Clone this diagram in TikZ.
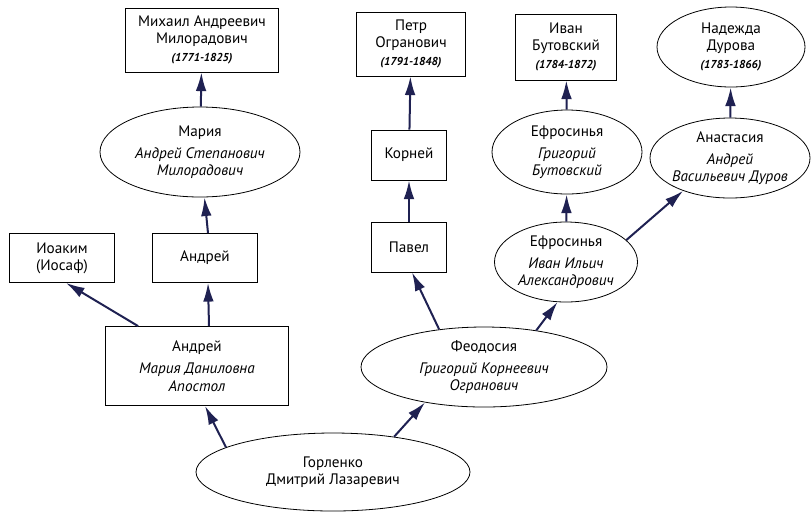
\documentclass[tikz,border=0pt]{standalone}
\usepackage{fontspec}
\setmainfont{PT Sans}
\usepackage{tikz}
\usetikzlibrary{shapes.geometric, arrows.meta}
\usepackage{xcolor}
\definecolor{linkc}{RGB}{31,33,82}
\newcommand{\yrs}[1]{{\fontsize{8.6}{10}\selectfont\bfseries\itshape(#1)}}

\begin{document}
\begin{tikzpicture}[x=0.75pt, y=-0.75pt, font=\fontsize{11.4}{12.8}\selectfont]
\def\pxu{0.75pt}
\tikzset{
 pbox/.style={draw, line width=0.6pt, rectangle, inner sep=0pt, align=center},
 pell/.style={draw, line width=0.6pt, ellipse, inner xsep=-14pt, inner ysep=-4pt, align=center},
 link/.style={draw=linkc, line width=1.5pt, -{Latex[length=14pt, width=8pt]}},
}
\useasboundingbox (0,0) rectangle (812,512);
%top row
\node[pbox, minimum width=153*\pxu, minimum height=64*\pxu] (mikh) at (202,40) {Михаил Андреевич\\Милорадович\\[1pt]\yrs{1771-1825}};
\node[pbox, minimum width=109*\pxu, minimum height=64*\pxu] (petr) at (411,44) {Петр\\Огранович\\[1pt]\yrs{1791-1848}};
\node[pbox, minimum width=101*\pxu, minimum height=66*\pxu] (ivan) at (566,47) {Иван\\Бутовский\\[1pt]\yrs{1784-1872}};
\node[pell, minimum width=148*\pxu, minimum height=80*\pxu] (nadezh) at (731,47) {Надежда\\Дурова\\[1pt]\yrs{1783-1866}};
%second row
\node[pell, minimum width=200*\pxu, minimum height=90*\pxu] (maria) at (200,152) {Мария\\[4pt]\textit{Андрей Степанович}\\\textit{Милорадович}};
\node[pbox, minimum width=75*\pxu, minimum height=50*\pxu] (korney) at (409,155) {Корней};
\node[pell, minimum width=150*\pxu, minimum height=84*\pxu] (efrt) at (567,152) {Ефросинья\\[4pt]\textit{Григорий}\\\textit{Бутовский}};
\node[pell, minimum width=160*\pxu, minimum height=80*\pxu] (anast) at (730,158) {Анастасия\\[4pt]\textit{Андрей}\\\textit{Васильевич Дуров}};
%third row
\node[pbox, minimum width=105*\pxu, minimum height=49*\pxu] (ioakim) at (62,258) {Иоаким\\(Иосаф)};
\node[pbox, minimum width=105*\pxu, minimum height=49*\pxu] (andreym) at (205,258) {Андрей};
\node[pbox, minimum width=75*\pxu, minimum height=50*\pxu] (pavel) at (409,247) {Павел};
\node[pell, minimum width=143*\pxu, minimum height=80*\pxu] (efrl) at (566,262) {Ефросинья\\[4pt]\textit{Иван Ильич}\\\textit{Александрович}};
%bottom
\node[pbox, minimum width=183*\pxu, minimum height=79*\pxu] (andreyb) at (197,366) {Андрей\\[4pt]\textit{Мария Даниловна}\\\textit{Апостол}};
\node[pell, minimum width=246*\pxu, minimum height=80*\pxu] (feod) at (484,367) {Феодосия\\[4pt]\textit{Григорий Корнеевич}\\\textit{Огранович}};
\node[pell, minimum width=274*\pxu, minimum height=78*\pxu] (gorl) at (333,472) {Горленко\\Дмитрий Лазаревич};
%links (left)
\draw[link] (gorl.167) -- ([xshift=8*\pxu]andreyb.south);
\draw[link] ([xshift=33*\pxu]andreyb.north west) -- ([xshift=4*\pxu]ioakim.south);
\draw[link] ([xshift=12*\pxu]andreyb.north) -- ([xshift=3*\pxu]andreym.south);
\draw[link] ([xshift=3*\pxu]andreym.north) -- (maria);
\draw[link] (maria) -- (mikh);
%links (right)
\draw[link] (gorl.30) -- (feod.211);
\draw[link] (feod.140) -- ([xshift=3*\pxu]pavel.south);
\draw[link] (pavel) -- (korney);
\draw[link] (korney) -- (petr);
\draw[link] (feod.35) -- (efrl.258);
\draw[link] (efrl) -- (efrt);
\draw[link] (efrt) -- (ivan);
\draw[link] (efrl.20) -- (anast.215);
\draw[link] (anast) -- (nadezh);
\end{tikzpicture}
\end{document}
